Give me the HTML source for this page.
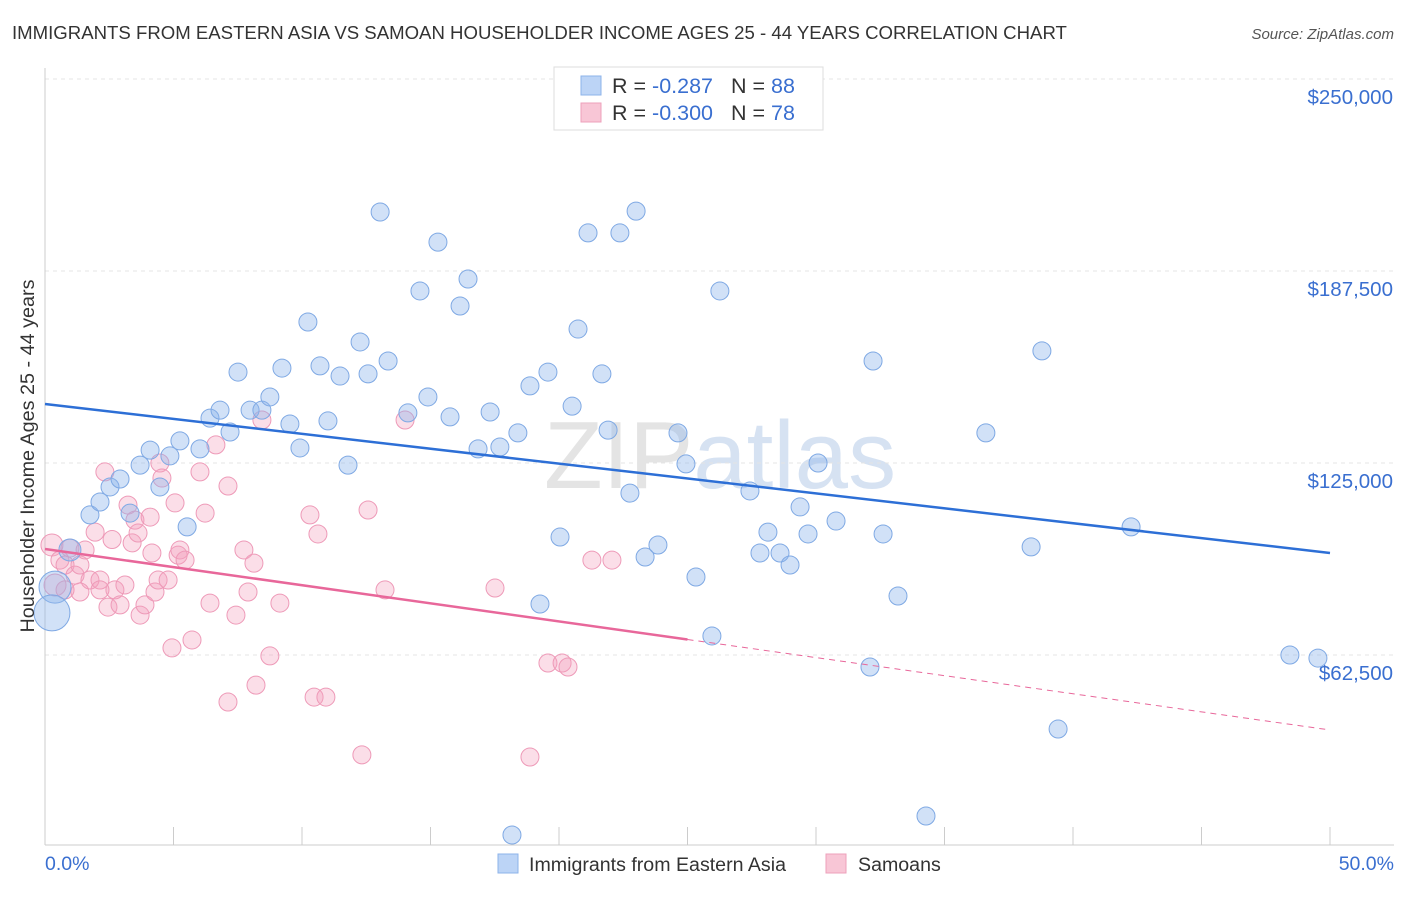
<!DOCTYPE html>
<html><head><meta charset="utf-8"><style>
body{margin:0;background:#fff;font-family:"Liberation Sans",sans-serif}
svg text{font-family:"Liberation Sans",sans-serif}
</style></head><body>
<svg id="c" width="1406" height="892" xmlns="http://www.w3.org/2000/svg">
<text x="12" y="39" font-size="18.6" fill="#333">IMMIGRANTS FROM EASTERN ASIA VS SAMOAN HOUSEHOLDER INCOME AGES 25 - 44 YEARS CORRELATION CHART</text>
<text x="1394" y="39" font-size="15" fill="#555" font-style="italic" text-anchor="end">Source: ZipAtlas.com</text>
<text x="720" y="488" font-size="96" fill="#e4e4e4" text-anchor="middle" font-family="Liberation Serif">ZIP<tspan fill="#d6e2f2" font-family="Liberation Sans">atlas</tspan></text>
<g id="grid"></g>
<g id="pts"></g>
<g id="lines"></g>
<text x="0" y="0" font-size="19.8" fill="#333" text-anchor="middle" transform="translate(34,456) rotate(-90)">Householder Income Ages 25 - 44 years</text>
<text x="45" y="870" font-size="19.5" fill="#3a6fd0">0.0%</text>
<text x="1394" y="870" font-size="19.5" fill="#3a6fd0" text-anchor="end">50.0%</text>
<g>
<rect x="554" y="67" width="269" height="63" fill="#fff" stroke="#ddd"/>
<rect x="581" y="76" width="20" height="19" fill="#bcd4f6" stroke="#8db3ea"/>
<rect x="581" y="103" width="20" height="19" fill="#f8c6d6" stroke="#eea0bb"/>
<text x="612" y="93" font-size="21.5" fill="#333">R = <tspan fill="#3a6fd0"> -0.287</tspan><tspan dx="18">N = </tspan><tspan fill="#3a6fd0">88</tspan></text>
<text x="612" y="120" font-size="21.5" fill="#333">R = <tspan fill="#3a6fd0">-0.300</tspan><tspan dx="18">N = </tspan><tspan fill="#3a6fd0">78</tspan></text>
</g>
<g>
<rect x="498" y="854" width="20" height="19" fill="#bcd4f6" stroke="#8db3ea"/>
<text x="529" y="871" font-size="19.6" fill="#333">Immigrants from Eastern Asia</text>
<rect x="826" y="854" width="20" height="19" fill="#f8c6d6" stroke="#eea0bb"/>
<text x="858" y="871" font-size="19.6" fill="#333">Samoans</text>
</g>
</svg>
<script>
const yTicks=[62500,125000,187500,250000];
const yTickLabels=["$62,500","$125,000","$187,500","$250,000"];
const blueX=[0.39,0.27,0.97,1.75,2.14,2.53,2.92,3.31,3.70,4.09,4.47,4.86,5.25,5.53,6.03,6.42,6.81,7.20,7.51,7.98,8.44,8.75,9.22,9.53,9.92,10.23,10.70,11.01,11.48,11.79,12.26,12.57,13.04,13.35,14.12,14.59,14.90,15.29,15.76,16.15,16.46,16.85,17.32,17.70,18.40,18.17,18.87,19.26,19.57,20.04,20.51,20.74,21.13,21.67,21.91,22.37,22.76,23.00,23.35,23.85,24.63,24.94,25.33,25.95,26.26,27.43,27.82,28.13,28.60,28.99,29.38,29.69,30.08,30.78,32.10,32.22,32.61,33.19,34.28,36.61,38.37,38.79,39.42,42.26,48.44,49.53];
const blueY=[84.6,76.2,96.7,108.1,112.3,117.2,119.8,108.7,124.3,129.2,117.2,127.3,132.2,104.2,129.6,139.6,142.2,135.1,154.6,142.2,142.2,146.5,155.9,137.7,129.9,170.9,156.6,138.7,153.3,124.3,164.4,154.0,206.7,158.2,141.3,181.0,146.5,196.9,140.0,176.1,184.9,129.6,141.6,130.2,134.8,3.9,150.1,79.1,154.6,100.9,143.5,168.6,199.9,154.0,135.7,199.9,115.2,207.0,94.4,98.3,134.8,124.7,87.9,68.7,181.0,115.9,95.7,102.5,95.7,91.8,110.7,101.9,125.0,106.1,58.6,158.2,101.9,81.7,10.1,134.8,97.7,161.5,38.4,104.2,62.5,61.5];
const pinkX=[0.27,0.39,0.58,0.78,0.97,1.17,1.36,1.56,1.75,1.95,2.14,2.33,2.45,2.61,2.72,2.92,3.11,3.23,3.39,3.50,3.62,3.70,3.89,4.09,4.16,4.28,4.40,4.47,4.55,4.79,4.94,5.06,5.18,5.25,5.45,5.72,6.03,6.23,6.42,6.65,7.12,7.43,7.74,7.90,8.13,8.21,8.44,8.75,9.14,10.31,10.62,10.47,10.93,12.33,12.57,13.23,14.01,17.51,18.87,19.57,20.12,20.35,21.28,22.06,7.12,2.14,1.36,0.78];
const pinkY=[98.3,85.3,93.4,91.8,97.3,88.5,91.8,96.7,86.9,102.5,86.9,122.1,78.1,100.1,83.7,78.8,85.3,111.3,99.0,106.4,102.2,75.5,78.8,107.4,95.7,83.0,86.9,125.0,120.1,86.9,64.8,112.0,95.0,96.7,93.4,67.4,122.1,108.7,79.4,130.9,117.5,75.5,96.7,83.0,92.4,52.7,139.0,62.2,79.4,108.1,101.9,48.8,48.8,30.0,109.7,83.7,139.0,84.3,29.3,59.9,59.9,58.6,93.4,93.4,47.2,83.7,83.0,83.7];
const blueTrend=[144.2,95.7];
const pinkTrend=[97.0,38.1];
const NS="http://www.w3.org/2000/svg";
const xs=p=>45+p/50*1285;
const ys=k=>655-(k*1000-62500)/62500*192;
function mk(tag,attrs,parent){const e=document.createElementNS(NS,tag);for(const k in attrs)e.setAttribute(k,attrs[k]);parent.appendChild(e);return e;}
const grid=document.getElementById('grid');
const topLine=mk('line',{x1:45,x2:1394,y1:79,y2:79,stroke:'#ddd','stroke-dasharray':'4,4'},grid);


yTicks.forEach((v,i)=>{
  const y=ys(v/1000);
  const l=mk('line',{x1:45,x2:1394,y1:y,y2:y,stroke:'#e4e4e4','stroke-dasharray':'4,4'},grid);
  
  
  const t=mk('text',{x:1393,y:y+25,'font-size':20.5,fill:'#3a6fd0','text-anchor':'end'},grid);
  t.textContent=yTickLabels[i];
  
  
});
const ax=mk('line',{x1:45,x2:1394,y1:845,y2:845,stroke:'#ccc'},grid);


const ay=mk('line',{x1:45,x2:45,y1:68,y2:845,stroke:'#ccc'},grid);


for(let i=0;i<=10;i++){const x=xs(i*5);
  const tk=mk('line',{x1:x,x2:x,y1:827,y2:845,stroke:'#ccc'},grid);
  
  }
const pts=document.getElementById('pts');
pinkX.forEach((x,i)=>{const r=(i<2)?11:9;
  const c=mk('circle',{cx:xs(x),cy:ys(pinkY[i]),r:r,fill:'rgba(244,160,190,0.35)',stroke:'#ee9ab8','stroke-width':1},pts);
  
  });
blueX.forEach((x,i)=>{const r=i==0?16:(i==1?18:(i==2?11:9));
  const c=mk('circle',{cx:xs(x),cy:ys(blueY[i]),r:r,fill:'rgba(140,180,236,0.4)',stroke:'#7fa9e4','stroke-width':1},pts);
  
  });
const lines=document.getElementById('lines');
const bl=mk('line',{x1:xs(0),y1:ys(blueTrend[0]),x2:xs(50),y2:ys(blueTrend[1]),stroke:'#2d6fd6','stroke-width':2.5},lines);


const pm=pinkTrend[0]+(pinkTrend[1]-pinkTrend[0])*0.5;
const pl=mk('line',{x1:xs(0),y1:ys(pinkTrend[0]),x2:xs(25),y2:ys(pm),stroke:'#e8679a','stroke-width':2.5},lines);


const pd=mk('line',{x1:xs(25),y1:ys(pm),x2:xs(50),y2:ys(pinkTrend[1]),stroke:'#e8679a','stroke-width':1,'stroke-dasharray':'6,5'},lines);


</script>
</body></html>
